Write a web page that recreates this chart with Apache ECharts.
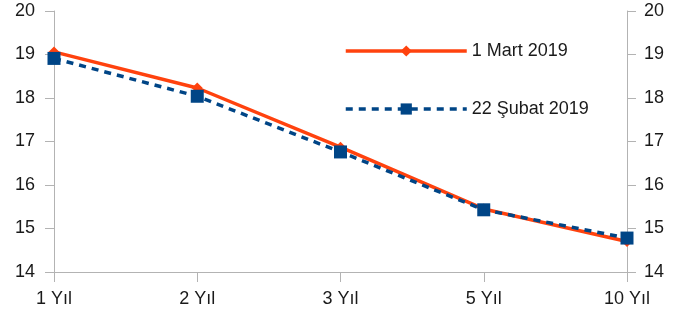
<!DOCTYPE html>
<html>
<head>
<meta charset="utf-8">
<script src="https://cdn.jsdelivr.net/npm/echarts@6/dist/echarts.min.js"></script>
<style>
  html, body { margin: 0; padding: 0; background: #fff; }
  #chart { width: 692px; height: 320px; }
</style>
</head>
<body>
<div id="chart"></div>
<script>
// Yield curve: maturities and rates (%) on two dates
const categories = ['1 Yıl', '2 Yıl', '3 Yıl', '5 Yıl', '10 Yıl'];
const mart1 = [19.06, 18.23, 16.87, 15.45, 14.70];
const subat22 = [18.91, 18.04, 16.76, 15.43, 14.78];
const seriesNames = ['1 Mart 2019', '22 Şubat 2019'];
const yMin = 14, yMax = 20, yStep = 1;

const FONT = 'Liberation Sans';
const axisGray = '#b3b3b3';
const labelColor = '#1a1a1a';

function valueAxis(position, margin) {
  return {
    type: 'value', position: position,
    min: yMin, max: yMax, interval: yStep,
    axisLine: { show: true, lineStyle: { color: axisGray, width: 1 } },
    axisTick: { show: true, length: 9, lineStyle: { color: axisGray } },
    axisLabel: { margin: margin, color: labelColor, fontFamily: FONT, fontSize: 18 },
    splitLine: { show: false }
  };
}

const chart = echarts.init(document.getElementById('chart'), null, { renderer: 'canvas' });
chart.setOption({
  animation: false,
  grid: { left: 54, right: 65, top: 11, bottom: 48, containLabel: false },
  legend: {
    orient: 'vertical',
    left: 344, top: 42, padding: 0,
    itemWidth: 121, itemHeight: 14, itemGap: 40,
    lineStyle: { width: 3.5 },
    textStyle: { color: labelColor, fontFamily: FONT, fontSize: 18 },
    data: seriesNames
  },
  xAxis: {
    type: 'category', data: categories, boundaryGap: false,
    axisLine: { lineStyle: { color: axisGray, width: 1 } },
    axisTick: { show: true, length: 10, alignWithLabel: true, lineStyle: { color: axisGray } },
    axisLabel: { margin: 18, color: labelColor, fontFamily: FONT, fontSize: 18 },
    splitLine: { show: false }
  },
  yAxis: [valueAxis('left', 19), valueAxis('right', 17)],
  series: [
    {
      name: seriesNames[0], type: 'line', data: mart1, yAxisIndex: 0,
      symbol: 'diamond', symbolSize: 11,
      lineStyle: { color: '#ff420e', width: 3.5 },
      itemStyle: { color: '#ff420e' }
    },
    {
      name: seriesNames[1], type: 'line', data: subat22, yAxisIndex: 0,
      symbol: 'rect', symbolSize: 13,
      lineStyle: { color: '#004586', width: 3.5, type: [7, 6] },
      itemStyle: { color: '#004586' }
    }
  ]
});
</script>
</body>
</html>
